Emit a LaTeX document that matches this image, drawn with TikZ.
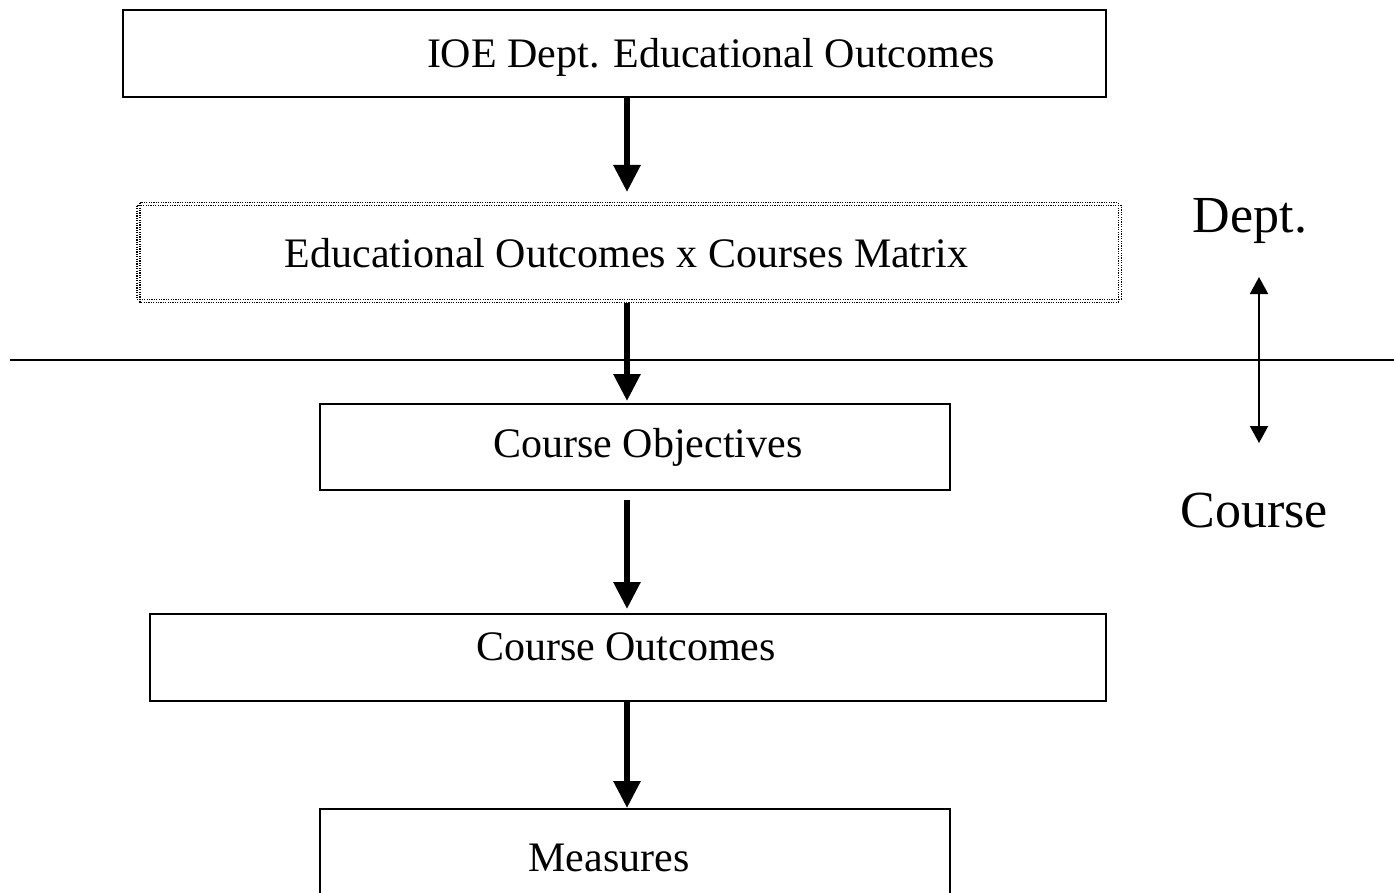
\documentclass[tikz,border=0pt]{standalone}
\usepackage{fontspec}
\setmainfont{Liberation Serif}
\usetikzlibrary{arrows.meta}
\begin{document}
\begin{tikzpicture}[x=1pt,y=-1pt,
  box/.style={draw, line width=1.8pt, inner sep=0pt},
  dotbox/.style={inner sep=0pt},
  dotline/.style={line width=1.4pt, dash pattern=on 1.2pt off 1.2pt},
  lbl/.style={anchor=base, inner sep=0pt, font=\fontsize{42}{48}\selectfont},
  side/.style={anchor=base, inner sep=0pt, font=\fontsize{52}{60}\selectfont},
  flow/.style={line width=6pt, -{Triangle[width=26pt,length=27pt]}},
  dbl/.style={line width=2pt, {Triangle[width=18pt,length=17pt]}-{Triangle[width=18pt,length=17pt]}}]
\useasboundingbox (0,0) rectangle (1394,893);
\clip (0,0) rectangle (1394,893);
% boxes
\node[box, minimum width=983pt, minimum height=87pt] (ioe) at (614.5,53.5) {};
\node[dotbox, minimum width=984pt, minimum height=93pt] (mat) at (629,252.5) {};
\draw[dotline] (mat.north west) rectangle (mat.south east);
\draw[dotline] ([shift={(3pt,3pt)}]mat.north west) rectangle ([shift={(-3pt,-3pt)}]mat.south east);
\node[box, minimum width=630pt, minimum height=86pt] (obj) at (635,447) {};
\node[box, minimum width=956pt, minimum height=87pt] (out) at (628,657.5) {};
\node[box, minimum width=630pt, minimum height=110pt] (mea) at (635,864) {};
% labels
\node[lbl] (tioe) at (711,68) {IOE Dept. Educational Outcomes};
\node[lbl] (tmat) at (626.5,268) {Educational Outcomes x Courses Matrix};
\node[lbl] (tobj) at (648,457) {Course Objectives};
\node[lbl] (tout) at (626,660) {Course Outcomes};
\node[lbl] (tmea) at (609,871) {Measures};
% divider
\coordinate (dl) at (10,360);
\coordinate (dr) at (1394,360);
\draw[line width=1.6pt] (dl) -- (dr);
% side labels
\node[side] (dept) at (1250,233) {Dept.};
\node[side] (course) at (1254,527) {Course};
\coordinate (dtop) at (1259,277);
\coordinate (dbot) at (1259,443);
\draw[dbl] (dtop) -- (dbot);
% flow arrows
\coordinate (a1s) at (627,97);
\coordinate (a1e) at (627,192);
\coordinate (a2s) at (627,303);
\coordinate (a2e) at (627,401);
\coordinate (a3s) at (627,500);
\coordinate (a3e) at (627,609);
\coordinate (a4s) at (627,701);
\coordinate (a4e) at (627,808);
\draw[flow] (ioe.south -| a1s) -- (a1e);
\draw[flow] (a2s) -- (a2e);
\draw[flow] (a3s) -- (a3e);
\draw[flow] (out.south -| a4s) -- (a4e);
\end{tikzpicture}
\end{document}
